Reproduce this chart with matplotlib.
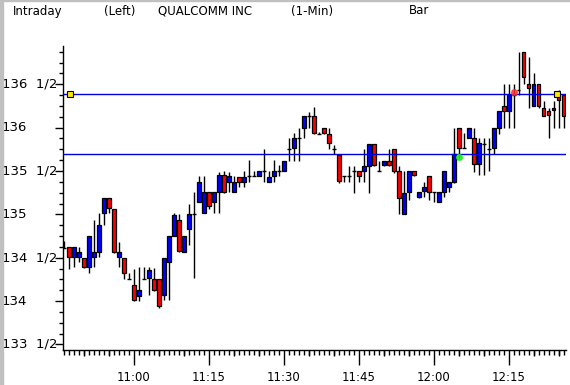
import numpy as np
import matplotlib
matplotlib.use("Agg")
import matplotlib.pyplot as plt
import matplotlib.transforms as mtransforms
from matplotlib import font_manager

# 1-min bars from 10:46 to 12:26
first_minute = -14   # minutes relative to 11:00
opens = [134.61, 134.62, 134.51, 134.51, 134.50, 134.39, 134.51, 134.57, 135.01, 135.19,
         135.06, 134.51, 134.50, 134.25, 134.18, 134.06, 134.25, 134.26, 134.25, 134.25,
         134.07, 134.45, 134.75, 134.93, 134.57, 134.83, 135.00, 135.14, 135.01, 135.26,
         135.14, 135.26, 135.45, 135.37, 135.26, 135.43, 135.37, 135.44, 135.44, 135.44,
         135.50, 135.37, 135.44, 135.50, 135.50, 135.75, 135.77, 135.88, 136.00, 136.13,
         136.13, 135.93, 136.00, 135.93, 135.75, 135.69, 135.44, 135.44, 135.50, 135.50,
         135.50, 135.56, 135.81, 135.50, 135.57, 135.62, 135.75, 135.50, 135.00, 135.26,
         135.50, 135.20, 135.27, 135.44, 135.26, 135.14, 135.26, 135.32, 135.37, 136.00,
         135.76, 135.88, 135.88, 135.58, 135.81, 135.75, 135.77, 136.00, 136.25, 136.19,
         136.38, 136.44, 136.87, 136.50, 136.25, 136.50, 136.23, 136.19, 136.20, 136.38,
         136.38]
highs = [134.69, 134.62, 134.62, 134.62, 134.50, 134.75, 134.93, 135.01, 135.19, 135.19,
         135.06, 134.68, 134.50, 134.32, 134.37, 134.39, 134.39, 134.39, 134.38, 134.25,
         134.50, 134.75, 135.01, 135.00, 134.75, 135.12, 135.26, 135.44, 135.44, 135.26,
         135.26, 135.49, 135.50, 135.49, 135.44, 135.43, 135.50, 135.63, 135.50, 135.50,
         135.75, 135.50, 135.63, 135.57, 135.62, 135.88, 135.94, 136.00, 136.13, 136.18,
         136.24, 135.95, 136.00, 136.00, 135.80, 135.69, 135.44, 135.56, 135.56, 135.50,
         135.75, 135.81, 135.81, 135.62, 135.62, 135.75, 135.75, 135.56, 135.50, 135.50,
         135.50, 135.26, 135.37, 135.44, 135.26, 135.26, 135.50, 135.37, 136.00, 136.00,
         135.94, 136.00, 136.00, 135.88, 135.88, 135.88, 136.00, 136.19, 136.50, 136.50,
         136.50, 136.87, 136.87, 136.81, 136.63, 136.50, 136.31, 136.23, 136.31, 136.44,
         136.38]
lows = [134.61, 134.37, 134.39, 134.45, 134.38, 134.32, 134.39, 134.51, 134.88, 135.01,
        134.55, 134.39, 134.25, 134.25, 134.00, 134.00, 134.25, 134.07, 134.12, 133.92,
        134.01, 134.01, 134.75, 134.56, 134.56, 134.65, 134.27, 135.14, 135.01, 135.06,
        135.01, 135.01, 135.25, 135.26, 135.26, 135.31, 135.31, 135.37, 135.44, 135.44,
        135.37, 135.37, 135.37, 135.44, 135.50, 135.62, 135.62, 135.62, 135.88, 136.00,
        135.93, 135.93, 135.93, 135.75, 135.70, 135.36, 135.37, 135.37, 135.25, 135.37,
        135.37, 135.25, 135.56, 135.50, 135.56, 135.56, 135.48, 135.00, 135.00, 135.17,
        135.44, 135.19, 135.20, 135.17, 135.14, 135.14, 135.20, 135.26, 135.36, 135.65,
        135.76, 135.88, 135.49, 135.45, 135.45, 135.50, 135.70, 135.93, 136.00, 136.00,
        136.00, 136.38, 136.50, 136.23, 136.25, 136.23, 136.13, 135.88, 136.00, 136.00,
        136.00]
closes = [134.61, 134.51, 134.62, 134.57, 134.39, 134.75, 134.57, 134.88, 135.19, 135.07,
          134.57, 134.57, 134.32, 134.25, 134.01, 134.13, 134.25, 134.36, 134.13, 133.94,
          134.50, 134.75, 134.99, 134.58, 134.75, 135.00, 135.00, 135.37, 135.26, 135.10,
          135.26, 135.45, 135.26, 135.44, 135.37, 135.37, 135.43, 135.44, 135.44, 135.50,
          135.50, 135.43, 135.50, 135.50, 135.62, 135.75, 135.88, 135.88, 136.13, 136.13,
          135.94, 135.93, 135.94, 135.82, 135.75, 135.38, 135.44, 135.44, 135.50, 135.44,
          135.56, 135.81, 135.57, 135.50, 135.62, 135.57, 135.50, 135.19, 135.25, 135.50,
          135.45, 135.26, 135.32, 135.26, 135.26, 135.26, 135.50, 135.37, 135.70, 135.76,
          135.76, 136.00, 135.58, 135.82, 135.81, 135.75, 136.00, 136.19, 136.19, 136.38,
          136.38, 136.44, 136.58, 136.46, 136.50, 136.25, 136.14, 136.15, 136.23, 136.32,
          136.14]

upper_level = 136.39
lower_level = 135.70
time_ticks = [0, 15, 30, 45, 60, 75]
time_labels = ["11:00", "11:15", "11:30", "11:45", "12:00", "12:15"]
price_ticks = [133.5, 134.0, 134.5, 135.0, 135.5, 136.0, 136.5]
price_labels = ["133  1/2", "134", "134  1/2", "135", "135  1/2", "136", "136  1/2"]

# narrow font if there is one
names = {f.name for f in font_manager.fontManager.ttflist}
if "Liberation Sans Narrow" in names:
    fam, fs = "Liberation Sans Narrow", 10.5
else:
    fam, fs = "DejaVu Sans", 8.5
plt.rcParams["font.family"] = fam
plt.rcParams["font.size"] = fs

W, H = 570, 385
fig = plt.figure(figsize=(W / 100, H / 100), dpi=100)
ax = fig.add_axes([63 / W, 35 / H, (566 - 63) / W, (350 - 46) / H])

x = np.arange(len(opens)) + first_minute
o = np.array(opens); c = np.array(closes)
hi = np.array(highs); lo = np.array(lows)

ax.vlines(x, lo, hi, color="black", lw=1.0, zorder=2)
up = c > o
down = c < o
flat = c == o
bw = 0.78
ax.bar(x[up], (c - o)[up], bottom=o[up], width=bw, color="#0000ff",
       edgecolor="black", lw=0.9, zorder=3)
ax.bar(x[down], (c - o)[down], bottom=o[down], width=bw, color="#ff0000",
       edgecolor="black", lw=0.9, zorder=3)
ax.hlines(o[flat], x[flat] - bw / 2, x[flat] + bw / 2, color="black", lw=1.0, zorder=3)

ax.axhline(upper_level, color="#0000dd", lw=1.0, zorder=4)
ax.axhline(lower_level, color="#0000dd", lw=1.0, zorder=4)

# small markers
ax.plot([-12.8, 84.6], [upper_level, upper_level], ls="none", marker="s", ms=4,
        mfc="#ffe600", mec="black", mew=0.8, zorder=5)
ax.plot([76], [136.41], ls="none", marker="o", ms=4, color="#ff3030", alpha=0.8, zorder=5)
ax.plot([65], [135.66], ls="none", marker="o", ms=4, color="#22ee22", alpha=0.9, zorder=5)

ax.set_xlim(-14.2, 86.5)
ax.set_ylim(133.435, 136.942)

for s in ["top", "right"]:
    ax.spines[s].set_visible(False)
for s in ["left", "bottom"]:
    ax.spines[s].set_linewidth(1.0)

ax.set_xticks(time_ticks)
ax.set_xticklabels(time_labels)
ax.set_xticks(np.arange(-14, 87), minor=True)
ax.tick_params(axis="x", which="major", length=11, width=1.0, pad=4)
ax.tick_params(axis="x", which="minor", length=3.5, width=1.0)

# 5-minute ticks
trans = mtransforms.blended_transform_factory(ax.transData, ax.transAxes)
fives = [m for m in range(-10, 87, 5) if m % 15 != 0]
ax.vlines(fives, -6 / 304, 0, transform=trans, color="black", lw=1.0, clip_on=False)

ax.set_yticks(price_ticks)
ax.set_yticklabels([])
ax.set_yticks(np.arange(133.5, 136.9, 0.125), minor=True)
ax.tick_params(axis="y", which="major", length=6, width=1.0)
ax.tick_params(axis="y", which="minor", length=3, width=1.0)
ytrans = mtransforms.blended_transform_factory(fig.transFigure, ax.transData)
for p, lab in zip(price_ticks, price_labels):
    ax.text(2 / W, p, lab, transform=ytrans, ha="left", va="center", fontsize=fs + 1)

# header
for xx, t in [(13, "Intraday"), (104, "(Left)"), (158, "QUALCOMM INC"),
              (291, "(1-Min)"), (409, "Bar")]:
    fig.text(xx / W, 1 - 11 / H, t, ha="left", va="center", fontsize=fs)

# window border
fig.patches.append(plt.Rectangle((0, 0), 3 / W, 1, transform=fig.transFigure,
                                 color="#c0c0c0", zorder=0))
fig.patches.append(plt.Rectangle((0, 1 - 1 / H), 1, 1 / H, transform=fig.transFigure,
                                 color="#c0c0c0", zorder=0))

fig.savefig("out.png", dpi=100)
